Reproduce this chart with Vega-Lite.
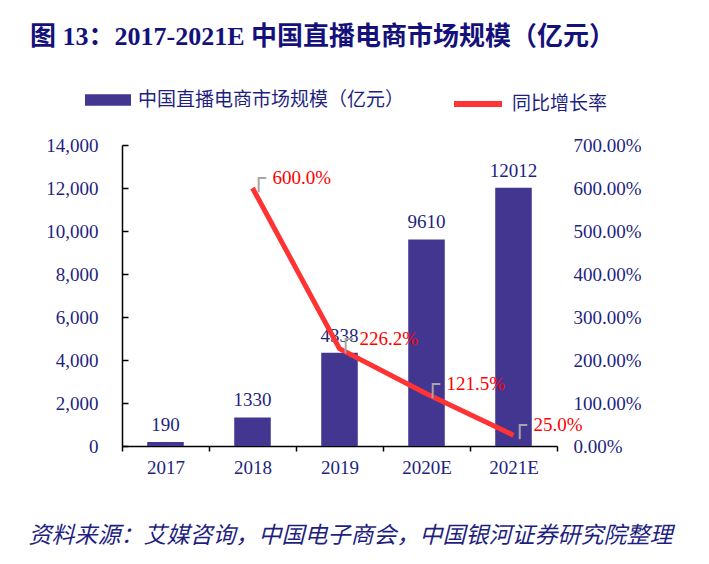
{
  "$schema": "https://vega.github.io/schema/vega-lite/v6.json",
  "width": 435,
  "height": 301,
  "autosize": {"type": "none"},
  "padding": {"left": 122, "top": 145, "right": 152, "bottom": 118},
  "config": {"view": {"stroke": null}, "font": "Liberation Serif, Noto Sans CJK SC"},
  "title": {
    "text": "图 13：2017-2021E 中国直播电商市场规模（亿元）",
    "anchor": "start",
    "frame": "group",
    "font": "Liberation Serif, Noto Sans CJK SC",
    "fontSize": 26,
    "fontWeight": "bold",
    "color": "#14127A",
    "dx": -92,
    "offset": 27
  },
  "data": {
    "values": [
      {"year": "2017", "scale": 190, "growth": null},
      {"year": "2018", "scale": 1330, "growth": 6.0},
      {"year": "2019", "scale": 4338, "growth": 2.262},
      {"year": "2020E", "scale": 9610, "growth": 1.215},
      {"year": "2021E", "scale": 12012, "growth": 0.25}
    ]
  },
  "encoding": {
    "x": {
      "field": "year",
      "type": "nominal",
      "sort": null,
      "scale": {"paddingInner": 0, "paddingOuter": 0},
      "axis": {
        "title": "资料来源：艾媒咨询，中国电子商会，中国银河证券研究院整理",
        "titleFont": "Noto Sans CJK SC",
        "titleFontStyle": "italic",
        "titleFontWeight": "normal",
        "titleFontSize": 23,
        "titleColor": "#1F1F7F",
        "titleX": -94,
        "titleY": 89,
        "titleAlign": "left",
        "titleAnchor": "start",
        "titleBaseline": "middle",
        "labelAngle": 0,
        "labelFont": "Liberation Serif",
        "labelFontSize": 19,
        "labelColor": "#1F1F7F",
        "labelPadding": 7,
        "tickBand": "extent",
        "tickSize": 5,
        "tickColor": "#000000",
        "domainColor": "#000000",
        "domainWidth": 1.5,
        "tickWidth": 1.5,
        "grid": false
      }
    }
  },
  "layer": [
    {
      "encoding": {
        "y": {
          "field": "scale",
          "type": "quantitative",
          "scale": {"domain": [0, 14000]},
          "axis": {
            "orient": "left",
            "title": null,
            "values": [0, 2000, 4000, 6000, 8000, 10000, 12000, 14000],
            "format": ",.0f",
            "labelFont": "Liberation Serif",
            "labelFontSize": 19,
            "labelColor": "#1F1F7F",
            "labelPadding": 30,
            "tickSize": -6,
            "domainColor": "#000000",
            "tickColor": "#000000",
            "domainWidth": 1.5,
            "tickWidth": 1.5,
            "grid": false
          }
        }
      },
      "layer": [
        {
          "mark": {"type": "bar", "width": {"band": 0.42}},
          "encoding": {
            "fill": {
              "datum": "中国直播电商市场规模（亿元）",
              "scale": {"range": ["#433691"]},
              "legend": {
                "orient": "none",
                "legendX": -37,
                "legendY": -68,
                "title": null,
                "symbolType": "M-1,-0.25L1,-0.25L1,0.25L-1,0.25Z",
                "symbolSize": 2116,
                "symbolStrokeWidth": 0,
                "labelFont": "Noto Sans CJK SC",
                "labelFontSize": 19,
                "labelLimit": 500,
                "labelColor": "#1F1F7F",
                "labelOffset": 7
              }
            }
          }
        },
        {
          "mark": {"type": "text", "baseline": "bottom", "dy": -7, "fontSize": 19, "color": "#1F1F7F", "font": "Liberation Serif"},
          "encoding": {"text": {"field": "scale", "type": "quantitative", "format": "d"}}
        }
      ]
    },
    {
      "transform": [{"filter": "datum.growth != null"}],
      "encoding": {
        "y": {
          "field": "growth",
          "type": "quantitative",
          "scale": {"domain": [0, 7]},
          "axis": {
            "orient": "right",
            "title": null,
            "values": [0, 1, 2, 3, 4, 5, 6, 7],
            "format": ".2%",
            "labelFont": "Liberation Serif",
            "labelFontSize": 19,
            "labelColor": "#1F1F7F",
            "labelPadding": 16,
            "domain": false,
            "ticks": false,
            "grid": false
          }
        }
      },
      "layer": [
        {
          "mark": {"type": "line", "strokeWidth": 5},
          "encoding": {
            "stroke": {
              "datum": "同比增长率",
              "scale": {"range": ["#FF3333"]},
              "legend": {
                "orient": "none",
                "legendX": 329,
                "legendY": -68,
                "title": null,
                "symbolType": "stroke",
                "symbolSize": 2304,
                "symbolStrokeWidth": 6,
                "labelFont": "Noto Sans CJK SC",
                "labelFontSize": 19,
                "labelLimit": 300,
                "labelColor": "#1F1F7F",
                "labelOffset": 7
              }
            }
          }
        },
        {
          "mark": {"type": "text", "text": "┌", "font": "DejaVu Sans", "fontSize": 24, "color": "#A6A6A6", "align": "left", "baseline": "middle", "dx": -1, "dy": -9},
          "encoding": {}
        },
        {
          "mark": {"type": "text", "align": "left", "baseline": "middle", "dx": 20, "dy": -10, "fontSize": 19, "color": "#FF0000", "font": "Liberation Serif"},
          "encoding": {"text": {"field": "growth", "type": "quantitative", "format": ".1%"}}
        }
      ]
    }
  ],
  "resolve": {"scale": {"y": "independent"}}
}
